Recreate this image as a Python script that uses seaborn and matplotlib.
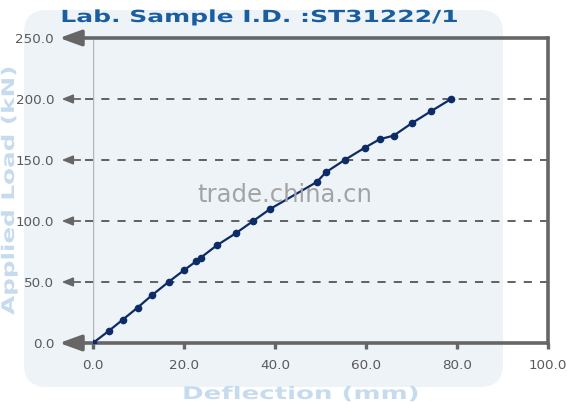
import matplotlib
matplotlib.use("Agg")
import matplotlib.pyplot as plt
import seaborn as sns
import pandas as pd
from matplotlib.patches import FancyBboxPatch
from matplotlib.patheffects import AbstractPathEffect
from matplotlib.transforms import Affine2D

# Data
deflection = [0, 3.5, 6.5, 9.8, 12.9, 16.6, 20.1, 22.7, 23.7, 27.2, 31.4, 35.2, 39.0,
              49.2, 51.2, 55.3, 59.7, 63.0, 66.1, 70.0, 74.3, 78.7]
load = [0, 10, 19, 29, 39, 50, 60, 67, 70, 80, 90, 100, 110,
        132, 140, 150, 160, 167, 170, 180, 190, 200]
x_ticks = [0, 20, 40, 60, 80, 100]
y_ticks = [0, 50, 100, 150, 200, 250]
grid_levels = [50, 100, 150, 200]

title = "Lab. Sample I.D. :ST31222/1"
x_label = "Deflection (mm)"
y_label = "Applied Load (kN)"


class Stretch(AbstractPathEffect):
    """Stretch glyphs along one direction around a fixed display point (wide heavy font look)."""

    def __init__(self, center, sx=1.0, sy=1.0):
        super().__init__()
        self.center = center
        self.sx = sx
        self.sy = sy

    def draw_path(self, renderer, gc, tpath, affine, rgbFace=None):
        cx, cy = self.center
        extra = Affine2D().translate(-cx, -cy).scale(self.sx, self.sy).translate(cx, cy)
        renderer.draw_path(gc, tpath, affine + extra, rgbFace)


sns.set_theme(style="white")
plt.rcParams['font.family'] = ['DejaVu Sans']

df = pd.DataFrame({"Deflection": deflection, "Load": load})

W, H = 567, 408
fig = plt.figure(figsize=(W / 100, H / 100), dpi=100)
fig.patch.set_facecolor("white")

# light rounded background panel
panel = FancyBboxPatch((24 / W, 1 - 387 / H), 479 / W, 377 / H,
                       boxstyle="round,pad=0,rounding_size=0.04",
                       mutation_aspect=W / H,
                       transform=fig.transFigure, facecolor="#eef3f8",
                       edgecolor="none", zorder=-5)
fig.add_artist(panel)

ax = fig.add_axes([93 / W, 1 - 343 / H, 455 / W, 305 / H])
ax.set_zorder(1)
ax.patch.set_visible(False)

ax.set_xlim(0, 100)
ax.set_ylim(0, 250)

gray = "#666666"
# dashed grid lines with small arrows on the left
for g in grid_levels:
    ax.plot([-1.8, 100], [g, g], color="#555555", lw=1.3, dashes=(4.5, 4.5),
            clip_on=False, zorder=1)
    ax.annotate("", xy=(-6.9, g), xytext=(-2.8, g),
                arrowprops=dict(arrowstyle="-|>,head_length=0.55,head_width=0.22",
                                color=gray, lw=1.3, shrinkA=0, shrinkB=0),
                annotation_clip=False)

# thin light vertical line at x = 0
ax.axvline(0, color="#b5b5b5", lw=1.0, zorder=1)

# thick top and bottom lines with arrows
for yy in [0, 250]:
    ax.annotate("", xy=(-7.4, yy), xytext=(100, yy),
                arrowprops=dict(arrowstyle="-|>,head_length=1.1,head_width=0.4",
                                color=gray, lw=2.6, shrinkA=0, shrinkB=0),
                annotation_clip=False, zorder=2)

for side in ["top", "bottom", "left"]:
    ax.spines[side].set_visible(False)
ax.spines["right"].set_color(gray)
ax.spines["right"].set_linewidth(2.6)

sns.lineplot(data=df, x="Deflection", y="Load", ax=ax, color="#0d2b66",
             lw=1.6, marker="o", markersize=5.5, markeredgewidth=0,
             sort=False, zorder=4)

ax.set_xticks(x_ticks)
ax.set_xticklabels([f"{v:.1f}" for v in x_ticks])
ax.set_yticks(y_ticks)
ax.set_yticklabels([f"{v:.1f}" for v in y_ticks])
ax.tick_params(axis="x", length=4.5, width=2.4, color=gray, pad=7,
               labelsize=9.7, labelcolor="#5a5a5a", bottom=True, direction="out")
ax.tick_params(axis="y", length=0, pad=28, labelsize=9.7, labelcolor="#5a5a5a")
ax.set_xlabel("")
ax.set_ylabel("")

# title and axis labels in a wide heavy look
tx, ty = 259, 17
fig.text(tx / W, 1 - ty / H, title, ha="center", va="center",
         fontsize=12, fontweight="bold", color="#1b5e9f",
         path_effects=[Stretch((tx, H - ty), sx=1.5)])
lx, ly = 301, 394
fig.text(lx / W, 1 - ly / H, x_label, ha="center", va="center",
         fontsize=12.5, fontweight="bold", color="#c6dcee",
         path_effects=[Stretch((lx, H - ly), sx=1.5)])
yx, yy_ = 9, 190
fig.text(yx / W, 1 - yy_ / H, y_label, ha="center", va="center",
         rotation=90, fontsize=12.5, fontweight="bold", color="#c6dcee",
         path_effects=[Stretch((yx, H - yy_), sy=1.42)])

# watermark
fig.text(285 / W, 1 - 195 / H, "trade.china.cn", ha="center", va="center",
         fontsize=17.5, color="#a3a3a3", zorder=10)

fig.savefig("out.png", dpi=100)
